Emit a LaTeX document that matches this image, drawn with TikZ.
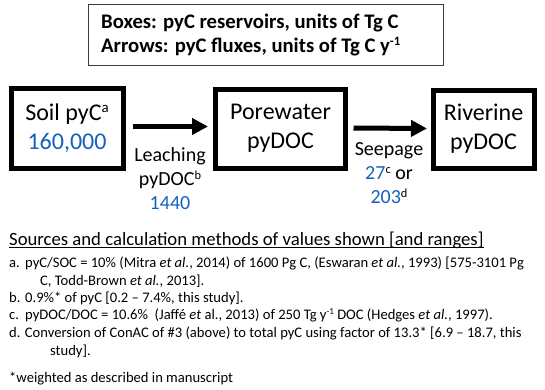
\documentclass[tikz,border=0pt]{standalone}
\usepackage{fontspec}
\usepackage{graphicx}
\setmainfont{Carlito}
\usetikzlibrary{arrows.meta}
\definecolor{valblue}{RGB}{21,96,189}
\definecolor{legframe}{RGB}{60,60,60}
\newcommand{\supmark}[1]{\raisebox{0.33em}{\scalebox{0.62}{#1}}}
\tikzset{
  pool/.style={draw=black, line width=5pt, inner sep=0pt, align=center,
    font=\fontsize{24}{29}\selectfont},
  flow/.style={line width=5pt, -{Triangle[length=16pt,width=16pt]}},
  flowlabel/.style={inner sep=0pt, align=center, font=\fontsize{20}{24}\selectfont},
  legendtext/.style={inner sep=0pt, anchor=base west, font=\fontsize{20.7}{24}\selectfont\bfseries},
  srctext/.style={inner sep=0pt, anchor=base west, font=\fontsize{14.6}{17}\selectfont},
  headtext/.style={inner sep=0pt, anchor=base west, font=\fontsize{18.7}{22}\selectfont},
}
\begin{document}
\begin{tikzpicture}[x=1pt,y=-1pt]
\useasboundingbox (0,0) rectangle (545,389);
% legend box
\node[draw=legframe, line width=1pt, minimum width=355pt, minimum height=61pt, inner sep=0pt] (legend) at (265.5,34.5) {};
\node[legendtext] (leg1) at (101,28.5) {Boxes: pyC reservoirs, units of Tg C};
\node[legendtext] (leg2) at (101,52) {Arrows: pyC fluxes, units of Tg C y\supmark{-1}};
% reservoirs
\node[pool, minimum width=112pt, minimum height=80pt] (soil) at (67,128.5)
  {Soil pyC\supmark{a}\\\textcolor{valblue}{160,000}};
\node[pool, minimum width=130pt, minimum height=79pt] (pore) at (280.5,128.5)
  {Porewater\\pyDOC};
\node[pool, minimum width=101pt, minimum height=78pt] (river) at (483.5,129)
  {Riverine\\pyDOC};
% fluxes
\draw[flow] ([xshift=7pt,yshift=2pt]soil.east) -- ([xshift=-5pt,yshift=2pt]pore.west);
\draw[flow] ([xshift=5.5pt,yshift=0.5pt]pore.east) -- ([xshift=-3.5pt,yshift=0.5pt]river.west);
\node[flowlabel] (leachlab) at (170,179) {Leaching\\pyDOC\supmark{b}\\\textcolor{valblue}{1440}};
\node[flowlabel] (seeplab) at (389,173.5) {Seepage\\\textcolor{valblue}{27}\supmark{c} or\\\textcolor{valblue}{203}\supmark{d}};
% sources
\node[headtext] (src) at (9,245) {Sources and calculation methods of values shown [and ranges]};
\draw[line width=0.9pt] ([yshift=-2.5pt]src.base west) -- ([yshift=-2.5pt]src.base east);
\node[srctext] (la) at (9,267) {a.};
\node[srctext] (ta) at (25,267) {pyC/SOC = 10\% (Mitra \textit{et al.}, 2014) of 1600 Pg C, (Eswaran \textit{et al.}, 1993) [575-3101 Pg};
\node[srctext] (ta2) at (40,285) {C, Todd-Brown \textit{et al.}, 2013].};
\node[srctext] (lb) at (9,302) {b.};
\node[srctext] (tb) at (25,302) {0.9\%* of pyC [0.2 – 7.4\%, this study].};
\node[srctext] (lc) at (9,319) {c.};
\node[srctext] (tc) at (25,319) {pyDOC/DOC = 10.6\%\ \ (Jaffé \textit{et} al., 2013) of 250 Tg y\supmark{-1} DOC (Hedges \textit{et al.}, 1997).};
\node[srctext] (td) at (9,337) {d. Conversion of ConAC of \#3 (above) to total pyC using factor of 13.3* [6.9 – 18.7, this};
\node[srctext] (td2) at (50,355) {study].};
\node[srctext] (note) at (9,382) {*weighted as described in manuscript};
\end{tikzpicture}
\end{document}
